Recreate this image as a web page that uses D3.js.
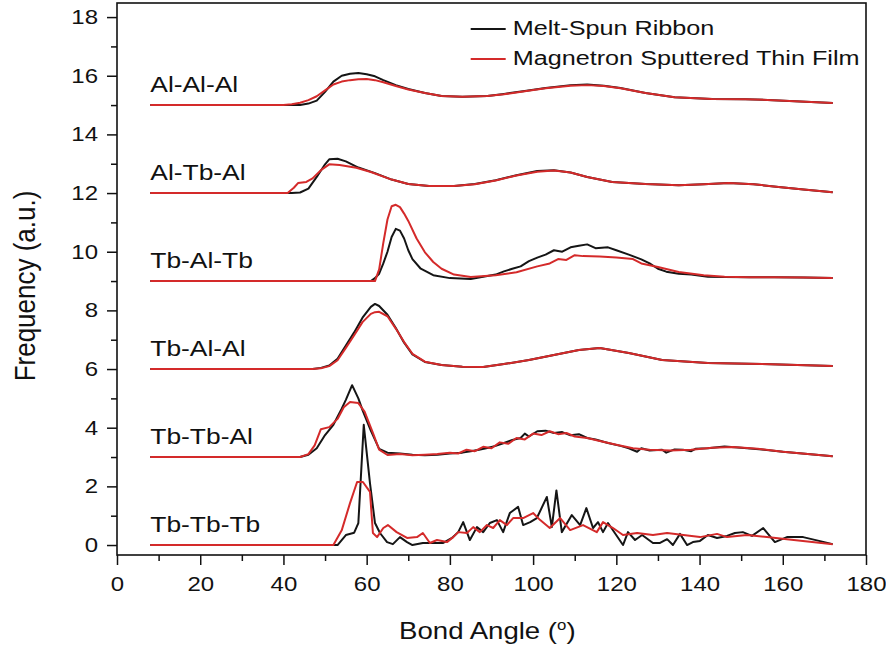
<!DOCTYPE html>
<html>
<head>
<meta charset="utf-8">
<script src="https://cdn.jsdelivr.net/npm/d3@7"></script>
<style>
  body { margin: 0; background: #fff; }
  text { font-family: "Liberation Sans", Arial, sans-serif; fill: #111; }
</style>
</head>
<body>
<div id="chart"></div>
<script>
// series names and their vertical offsets
var seriesNames = ["Al-Al-Al", "Al-Tb-Al", "Tb-Al-Tb", "Tb-Al-Al", "Tb-Tb-Al", "Tb-Tb-Tb"];
var seriesOffsets = [15, 12, 9, 6, 3, 0];
var legendNames = ["Melt-Spun Ribbon", "Magnetron Sputtered Thin Film"];

var xTicks = [0, 20, 40, 60, 80, 100, 120, 140, 160, 180];
var yTicks = [0, 2, 4, 6, 8, 10, 12, 14, 16, 18];

// Al-Al-Al
var aaaAngle = [8, 40, 42, 44, 46, 48, 50, 52, 54, 56, 58, 60, 62, 64, 67, 70, 74, 78, 83, 89, 93, 98, 103, 109, 113, 117, 121, 127, 134, 143, 151, 159, 172];
var aaaRibbon = [15, 15, 15.0, 15.0, 15.05, 15.15, 15.45, 15.8, 16.0, 16.07, 16.09, 16.05, 15.98, 15.85, 15.68, 15.55, 15.41, 15.31, 15.28, 15.31, 15.38, 15.48, 15.58, 15.68, 15.7, 15.66, 15.58, 15.41, 15.27, 15.21, 15.2, 15.16, 15.07];
var aaaFilm = [15, 15, 15.03, 15.08, 15.17, 15.3, 15.5, 15.7, 15.8, 15.85, 15.88, 15.89, 15.85, 15.78, 15.65, 15.53, 15.41, 15.31, 15.28, 15.31, 15.37, 15.47, 15.57, 15.66, 15.68, 15.65, 15.57, 15.41, 15.27, 15.21, 15.2, 15.16, 15.07];

// Al-Tb-Al
var atbRibbonAngle = [8, 42, 44, 46, 48, 50, 51, 53, 55, 58, 62, 66, 70, 75, 81, 86, 91, 96, 101, 105, 109, 113, 119, 127, 135, 141, 147, 153, 159, 165, 172];
var atbRibbon = [12, 12, 12.02, 12.15, 12.55, 12.98, 13.15, 13.17, 13.08, 12.87, 12.68, 12.46, 12.31, 12.24, 12.24, 12.31, 12.44, 12.61, 12.75, 12.78, 12.7, 12.55, 12.38, 12.31, 12.27, 12.3, 12.34, 12.3, 12.21, 12.12, 12.03];
var atbFilmAngle = [8, 41, 42.5, 43.5, 45.5, 47, 49, 51, 53.5, 57.5, 61, 66, 70, 75, 81, 86, 91, 96, 101, 105, 109, 113, 119, 127, 135, 141, 147, 153, 159, 165, 172];
var atbFilm = [12, 12, 12.18, 12.34, 12.38, 12.5, 12.78, 12.98, 12.96, 12.86, 12.72, 12.46, 12.31, 12.24, 12.24, 12.3, 12.43, 12.6, 12.73, 12.77, 12.7, 12.55, 12.38, 12.31, 12.27, 12.3, 12.34, 12.3, 12.21, 12.12, 12.03];

// Tb-Al-Tb
var tatRibbonAngle = [8, 61, 62, 63, 64, 65, 66, 67, 68, 69, 70, 71, 73, 76, 80, 85, 89, 91, 93, 95, 97, 99, 101, 103, 105, 107, 109, 111, 113, 115, 118, 120, 123, 126, 128, 130, 132, 135, 138, 142, 146, 152, 158, 165, 172];
var tatRibbon = [9, 9, 9.1, 9.25, 9.6, 10.0, 10.5, 10.78, 10.72, 10.45, 10.05, 9.75, 9.42, 9.2, 9.1, 9.07, 9.17, 9.22, 9.33, 9.42, 9.5, 9.68, 9.8, 9.9, 10.05, 10.0, 10.15, 10.2, 10.25, 10.12, 10.15, 10.05, 9.9, 9.74, 9.6, 9.42, 9.32, 9.25, 9.22, 9.15, 9.14, 9.13, 9.13, 9.12, 9.1];
var tatFilmAngle = [8, 62, 63, 64, 65, 66, 67, 68, 69, 70, 72, 74, 76, 78, 81, 85, 91, 96, 101, 104, 106, 108, 110, 112, 116, 120, 124, 126, 130, 135, 141, 146, 152, 158, 165, 172];
var tatFilm = [9, 9, 9.4, 10.3, 11.1, 11.55, 11.6, 11.52, 11.3, 11.05, 10.45, 9.98, 9.65, 9.42, 9.22, 9.14, 9.2, 9.3, 9.5, 9.6, 9.75, 9.72, 9.88, 9.85, 9.84, 9.8, 9.75, 9.6, 9.48, 9.31, 9.2, 9.15, 9.13, 9.13, 9.12, 9.1];

// Tb-Al-Al
var taaAngle = [8, 47, 49, 51, 53, 55, 57, 59, 61, 62, 63, 65, 67, 69, 71, 74, 78, 83, 88, 93, 99, 105, 111, 116, 123, 131, 142, 155, 172];
var taaRibbon = [6, 6, 6.04, 6.12, 6.35, 6.8, 7.25, 7.75, 8.12, 8.22, 8.15, 7.85, 7.4, 6.9, 6.5, 6.24, 6.14, 6.08, 6.07, 6.17, 6.31, 6.48, 6.65, 6.72, 6.55, 6.31, 6.21, 6.17, 6.1];
var taaFilm = [6, 6, 6.03, 6.1, 6.3, 6.72, 7.15, 7.6, 7.88, 7.94, 7.95, 7.8, 7.38, 6.92, 6.52, 6.25, 6.14, 6.08, 6.07, 6.17, 6.31, 6.48, 6.65, 6.72, 6.55, 6.31, 6.21, 6.17, 6.1];

// Tb-Tb-Al
var ttaRibbonAngle = [8, 44, 46, 48, 50, 52, 54, 55, 56.5, 58, 59, 61, 63, 65, 68, 71, 74, 77, 80, 83, 85, 87, 89, 91, 93, 95, 97, 98, 99, 101, 103, 105, 107, 109, 111, 113, 115, 118, 121, 123, 125, 126, 128, 131, 132, 134, 136, 138, 139, 142, 146, 150, 155, 160, 166, 172];
var ttaRibbon = [3, 3, 3.08, 3.3, 3.75, 4.1, 4.65, 4.95, 5.45, 5.0, 4.6, 3.9, 3.28, 3.15, 3.12, 3.08, 3.06, 3.08, 3.12, 3.15, 3.2, 3.25, 3.31, 3.38, 3.48, 3.58, 3.65, 3.8, 3.7, 3.88, 3.9, 3.82, 3.85, 3.74, 3.78, 3.65, 3.6, 3.48, 3.38, 3.3, 3.18, 3.3, 3.22, 3.25, 3.15, 3.26, 3.25, 3.2, 3.28, 3.3, 3.36, 3.32, 3.26, 3.18, 3.1, 3.03];
var ttaFilmAngle = [8, 44, 46, 47.5, 49, 51, 53, 54.5, 56, 58, 59.5, 61.5, 63, 65, 68, 71, 74, 77, 80, 82, 84, 86, 88, 90, 92, 94, 96, 98, 100, 102, 104, 106, 108, 110, 113, 116, 120, 124, 128, 133, 138, 143, 148, 154, 160, 166, 172];
var ttaFilm = [3, 3, 3.1, 3.4, 3.95, 4.02, 4.3, 4.7, 4.88, 4.84, 4.55, 3.82, 3.25, 3.07, 3.1, 3.06, 3.08, 3.1, 3.15, 3.12, 3.25, 3.2, 3.35, 3.3, 3.5, 3.45, 3.65, 3.6, 3.8, 3.75, 3.88, 3.78, 3.82, 3.7, 3.65, 3.55, 3.42, 3.3, 3.25, 3.22, 3.25, 3.32, 3.34, 3.28, 3.18, 3.1, 3.03];

// Tb-Tb-Tb
var tttRibbonAngle = [8, 53, 55, 57, 58, 59.3, 60.8, 62, 63.2, 64.9, 66.3, 68, 69.7, 71, 73.5, 76, 78.4, 80.5, 82, 83.2, 84.8, 86.5, 88, 89.6, 91.3, 92.8, 94.4, 96.4, 97.6, 99.3, 100.9, 103.3, 104.5, 105.6, 106.9, 109.3, 111.3, 112.8, 114.4, 115.6, 116.8, 118, 121.6, 122.8, 124.5, 126.2, 128.8, 130.5, 132.2, 133.6, 135.3, 137, 138.4, 140.1, 142, 144.2, 146.6, 148.5, 150.4, 152.6, 155.3, 158.1, 161, 164.9, 172];
var tttRibbon = [0, 0, 0.34, 0.42, 0.75, 4.1, 2.1, 0.75, 0.41, 0.1, 0.03, 0.27, 0.1, 0, 0.07, 0.07, 0.07, 0.24, 0.44, 0.78, 0.17, 0.61, 0.44, 0.75, 0.85, 0.44, 1.09, 1.3, 0.68, 0.78, 0.92, 1.64, 0.61, 1.86, 0.44, 1.02, 0.68, 1.26, 0.58, 0.78, 0.44, 0.75, 0, 0.44, 0.17, 0.34, 0.07, 0.07, 0.2, 0, 0.38, 0, 0.1, 0.14, 0.34, 0.24, 0.31, 0.41, 0.44, 0.31, 0.58, 0.1, 0.27, 0.27, 0.03];
var tttFilmAngle = [8, 52, 54, 56, 57.7, 59.1, 60.8, 61.5, 62.5, 64, 65.1, 67.2, 69.7, 72.1, 73.5, 75.2, 76.9, 79.3, 80.8, 82, 84.1, 85.6, 87.2, 88.9, 90.4, 92, 93.7, 95.2, 97.6, 100, 101.7, 104, 106.5, 108.9, 112, 115.3, 116.8, 119.2, 121.6, 125, 128.8, 132.2, 136.1, 140.1, 144.2, 146.6, 151.4, 156.2, 161, 172];
var tttFilm = [0, 0, 0.5, 1.43, 2.15, 2.15, 1.81, 0.41, 0.27, 0.58, 0.68, 0.44, 0.24, 0.27, 0.41, 0.07, 0.17, 0.1, 0.27, 0.44, 0.41, 0.61, 0.44, 0.68, 0.58, 0.85, 0.68, 0.92, 0.92, 1.09, 0.85, 0.58, 0.92, 0.51, 0.68, 0.44, 0.78, 0.58, 0.34, 0.41, 0.34, 0.41, 0.34, 0.27, 0.38, 0.27, 0.34, 0.27, 0.2, 0.03];

var ribbonColor = "#151515";
var filmColor = "#d42a2a";
var stretch = 1.2; // the source figure is drawn a bit wide

var svgWidth = 886;
var svgHeight = 650;
var margin = { top: 3, right: 20, bottom: 95, left: 117 };
var width = svgWidth - margin.left - margin.right;
var height = svgHeight - margin.top - margin.bottom;

var svg = d3.select("#chart")
  .append("svg")
  .attr("width", svgWidth)
  .attr("height", svgHeight);

var chartGroup = svg.append("g")
  .attr("transform", `translate(${margin.left}, ${margin.top})`);

var xScale = d3.scaleLinear().domain([0, 180]).range([0, width]);
var yScale = d3.scaleLinear().domain([-0.34, 18.48]).range([height, 0]);

// widen text horizontally around its anchor
function widen(sel) {
  sel.each(function() {
    var t = d3.select(this);
    var x = +t.attr("x") || 0;
    var y = +t.attr("y") || 0;
    t.attr("x", 0).attr("y", 0)
      .attr("transform", `translate(${x},${y}) scale(${stretch},1)`);
  });
}

// axes: major + minor ticks, outward
var xMinor = d3.range(10, 180, 20);
var yMinor = d3.range(1, 19, 2);

chartGroup.append("g")
  .attr("transform", `translate(0, ${height})`)
  .call(d3.axisBottom(xScale).tickValues(xMinor).tickSize(6).tickFormat(""))
  .call(g => g.select(".domain").remove());

var xAxis = chartGroup.append("g")
  .attr("class", "x-axis")
  .attr("transform", `translate(0, ${height})`)
  .call(d3.axisBottom(xScale).tickValues(xTicks).tickSize(10).tickPadding(12).tickSizeOuter(0));
xAxis.select(".domain").remove();

chartGroup.append("g")
  .call(d3.axisLeft(yScale).tickValues(yMinor).tickSize(6).tickFormat(""))
  .call(g => g.select(".domain").remove());

var yAxis = chartGroup.append("g")
  .attr("class", "y-axis")
  .call(d3.axisLeft(yScale).tickValues(yTicks).tickSize(10).tickPadding(9).tickSizeOuter(0));
yAxis.select(".domain").remove();

svg.selectAll(".tick line").attr("stroke", "#111").attr("stroke-width", 1.5);
svg.selectAll(".tick text")
  .attr("font-size", 20)
  .attr("font-family", "Liberation Sans, Arial, sans-serif")
  .attr("fill", "#111");
widen(xAxis.selectAll(".tick text"));
widen(yAxis.selectAll(".tick text"));

// frame
chartGroup.append("rect")
  .attr("width", width)
  .attr("height", height)
  .attr("fill", "none")
  .attr("stroke", "#111")
  .attr("stroke-width", 1.6);

// curves
var series = [
  { ribbonX: aaaAngle, ribbon: aaaRibbon, filmX: aaaAngle, film: aaaFilm },
  { ribbonX: atbRibbonAngle, ribbon: atbRibbon, filmX: atbFilmAngle, film: atbFilm },
  { ribbonX: tatRibbonAngle, ribbon: tatRibbon, filmX: tatFilmAngle, film: tatFilm },
  { ribbonX: taaAngle, ribbon: taaRibbon, filmX: taaAngle, film: taaFilm },
  { ribbonX: ttaRibbonAngle, ribbon: ttaRibbon, filmX: ttaFilmAngle, film: ttaFilm },
  { ribbonX: tttRibbonAngle, ribbon: tttRibbon, filmX: tttFilmAngle, film: tttFilm }
];

var line = d3.line()
  .x(d => xScale(d[0]))
  .y(d => yScale(d[1]));

series.forEach(function(s) {
  chartGroup.append("path")
    .datum(d3.zip(s.ribbonX, s.ribbon))
    .attr("d", line)
    .attr("fill", "none")
    .attr("stroke", ribbonColor)
    .attr("stroke-width", 2)
    .attr("stroke-linejoin", "round");

  chartGroup.append("path")
    .datum(d3.zip(s.filmX, s.film))
    .attr("d", line)
    .attr("fill", "none")
    .attr("stroke", filmColor)
    .attr("stroke-width", 2)
    .attr("stroke-linejoin", "round");
});

// series labels
chartGroup.selectAll(".seriesLabel")
  .data(seriesNames)
  .enter()
  .append("text")
  .attr("class", "seriesLabel")
  .attr("x", xScale(8))
  .attr("y", (d, i) => yScale(seriesOffsets[i] + 0.45))
  .attr("font-size", 22)
  .text(d => d)
  .call(widen);

// legend
var legend = chartGroup.append("g")
  .attr("transform", `translate(${xScale(85)}, 26)`);

legend.selectAll("line")
  .data([ribbonColor, filmColor])
  .enter()
  .append("line")
  .attr("x1", 0)
  .attr("x2", 35)
  .attr("y1", (d, i) => i * 30)
  .attr("y2", (d, i) => i * 30)
  .attr("stroke", d => d)
  .attr("stroke-width", 2);

legend.selectAll("text")
  .data(legendNames)
  .enter()
  .append("text")
  .attr("x", 42)
  .attr("y", (d, i) => i * 30 + 6)
  .attr("font-size", 21)
  .text(d => d)
  .call(widen);

// axis titles
var xTitle = svg.append("text")
  .attr("text-anchor", "middle")
  .attr("font-size", 23)
  .attr("transform", `translate(${margin.left + xScale(89)}, 639) scale(${stretch},1)`);
xTitle.append("tspan").text("Bond Angle (");
xTitle.append("tspan").attr("font-size", 14).attr("dy", -9).text("o");
xTitle.append("tspan").attr("dy", 9).text(")");

svg.append("text")
  .attr("text-anchor", "middle")
  .attr("font-size", 26)
  .attr("transform", `translate(35, 286) scale(1.1,1) rotate(-90)`)
  .text("Frequency (a.u.)");
</script>
</body>
</html>
